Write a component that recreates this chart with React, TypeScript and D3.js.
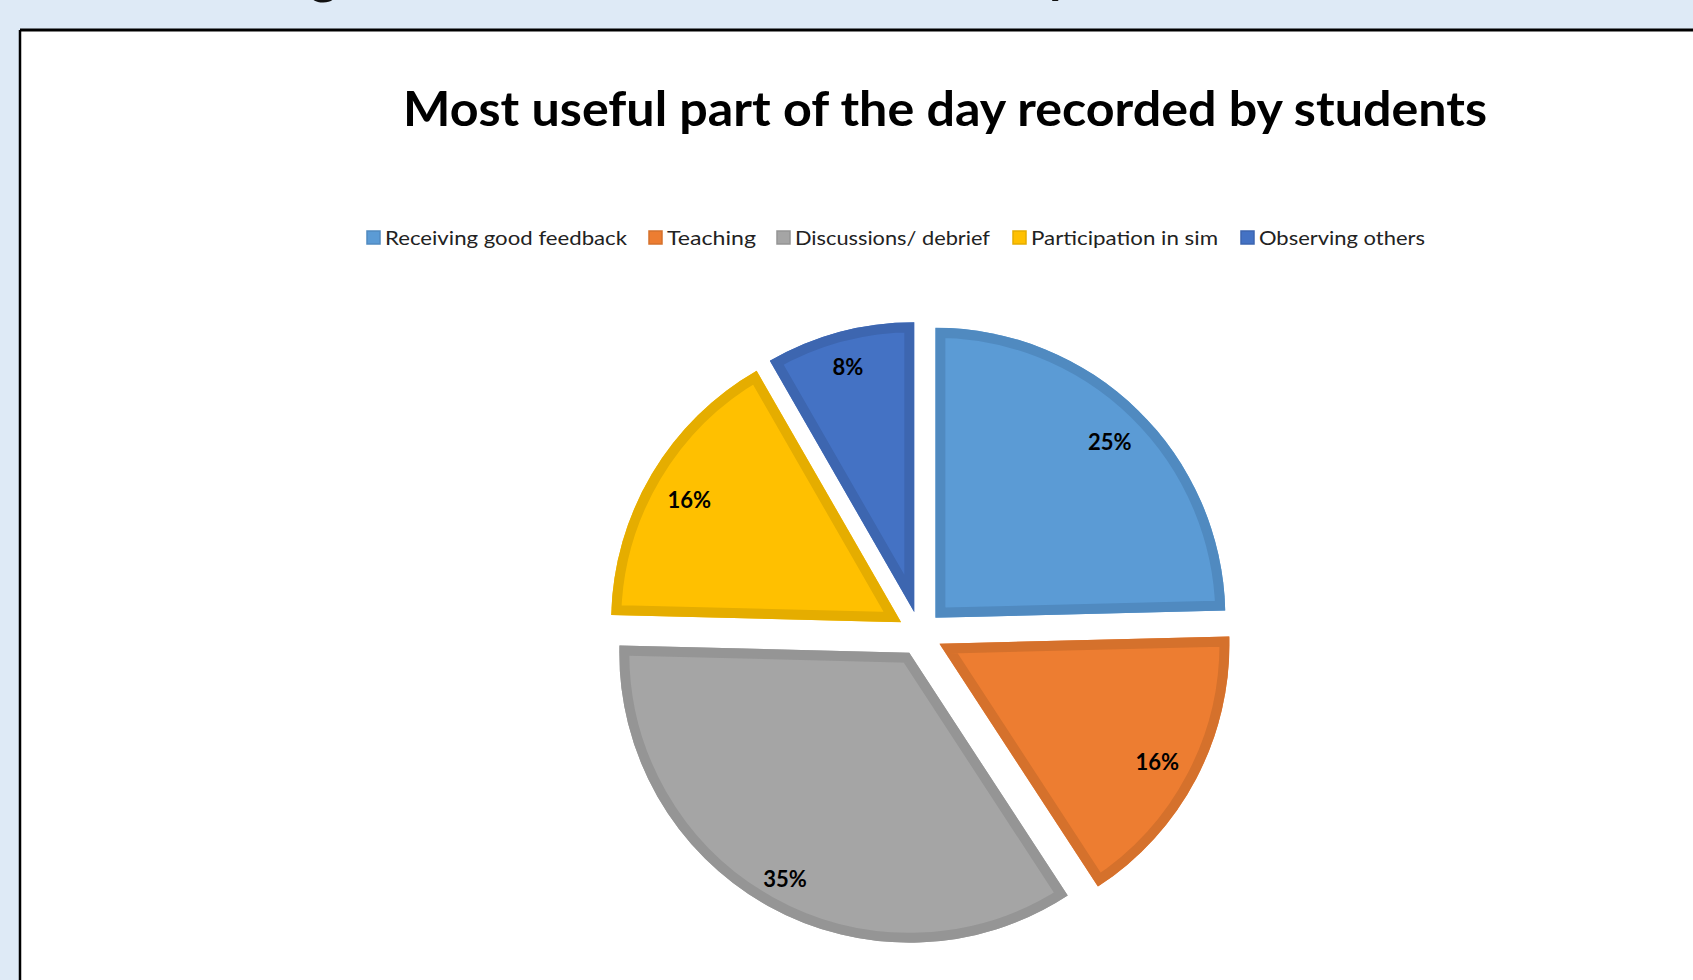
import React from "react";
import * as d3 from "d3";

const categories = [
  "Receiving good feedback",
  "Teaching",
  "Discussions/ debrief",
  "Participation in sim",
  "Observing others",
];
const values = [24.6, 16.2, 34.6, 16.3, 8.3];
const fills = ["#5B9BD5", "#ED7D31", "#A5A5A5", "#FFC000", "#4472C4"];
const borders = ["#508AC0", "#D5712C", "#959595", "#E5AD00", "#3D66B0"];
const legendTextWidths = [242, 89, 195, 187, 166];
const legendX = [367, 649, 777, 1013, 1241];
const title = "Most useful part of the day recorded by students";

const W = 1693;
const H = 980;
const cx = 920;
const cy = 633.5;
const R = 290;
const explode = 22;
const borderW = 10;

export default function App() {
  const pie = d3
    .pie<number>()
    .sort(null)
    .startAngle(0)
    .endAngle(2 * Math.PI)
    .value((d) => d);
  const arcs = pie(values);
  const arcGen = d3.arc<d3.PieArcDatum<number>>().innerRadius(0).outerRadius(R);
  const total = d3.sum(values);
  const pad = 19;

  return (
    <svg
      width={W}
      height={H}
      style={{ position: "fixed", left: 0, top: 0, background: "#DEEAF6" }}
    >
      <defs>
        {arcs.map((a, i) => (
          <clipPath id={"clip" + i} key={i}>
            <path d={arcGen(a) || ""} />
          </clipPath>
        ))}
      </defs>
      {/* cut-off heading descenders */}
      <text x={310} y={-7} fontFamily="Lato" fontWeight={700} fontSize={52} fill="#111">
        g
      </text>
      <text x={1046} y={-8} fontFamily="Lato" fontWeight={700} fontSize={52} fill="#111">
        y
      </text>
      {/* chart area */}
      <rect x={20} y={30} width={W} height={H} fill="#FFFFFF" />
      <line x1={20} y1={30} x2={W} y2={30} stroke="#000" strokeWidth={3} />
      <line x1={20} y1={30} x2={20} y2={H} stroke="#000" strokeWidth={2.5} />

      <text
        x={945}
        y={126}
        textAnchor="middle"
        fontFamily="Lato"
        fontWeight={700}
        fontSize={47}
        fill="#000"
        textLength={1084}
        lengthAdjust="spacingAndGlyphs"
      >
        {title}
      </text>

      {/* legend */}
      {categories.map((c, i) => (
        <g key={c}>
          <rect
            x={legendX[i]}
            y={231}
            width={13}
            height={13}
            fill={fills[i]}
            stroke={borders[i]}
            strokeWidth={1.5}
          />
          <text
            x={legendX[i] + 18}
            y={244.5}
            fontFamily="Lato"
            fontSize={20}
            fill="#222"
            textLength={legendTextWidths[i]}
            lengthAdjust="spacingAndGlyphs"
          >
            {c}
          </text>
        </g>
      ))}

      {/* pie */}
      <g transform={`translate(${cx},${cy})`}>
        {arcs.map((a, i) => {
          const mid = (a.startAngle + a.endAngle) / 2;
          const ux = Math.sin(mid);
          const uy = -Math.cos(mid);
          const dx = explode * ux;
          const dy = explode * uy;
          const label = d3.format(".0%")(a.value / total);
          const hw = label.length === 2 ? 37 : 26;
          const hh = 4;
          const dist = R - pad - (hw * Math.abs(ux) + hh * Math.abs(uy));
          return (
            <g key={i} transform={`translate(${dx},${dy})`}>
              <path d={arcGen(a) || ""} fill={fills[i]} />
              <path
                d={arcGen(a) || ""}
                fill="none"
                stroke={borders[i]}
                strokeWidth={borderW * 2}
                strokeLinejoin="miter"
                clipPath={`url(#clip${i})`}
              />
              <text
                x={dist * ux}
                y={dist * uy + 3}
                textAnchor="middle"
                dominantBaseline="central"
                fontFamily="Lato"
                fontWeight={700}
                fontSize={22}
                fill="#000"
              >
                {label}
              </text>
            </g>
          );
        })}
      </g>
    </svg>
  );
}
